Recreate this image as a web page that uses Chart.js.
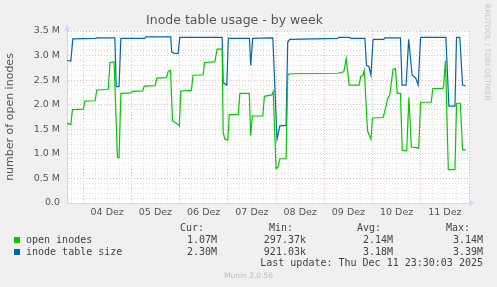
<!DOCTYPE html>
<html lang="de">
<head>
<meta charset="UTF-8">
<title>Inode table usage - by week</title>
<script src="https://cdn.jsdelivr.net/npm/chart.js@4"></script>
<style>
    body { margin: 0; background: #f0f0f0; }
    #wrap { position: relative; width: 497px; height: 287px; background: #f0f0f0; overflow: hidden; }
    #chart { position: absolute; left: 0; top: 0; }
    .mono { position: absolute; font: 10px "DejaVu Sans Mono", monospace; color: #444; line-height: 12px; white-space: pre; }
    .r { text-align: right; }
    .sq { position: absolute; width: 6px; height: 6px; }
    #rrd { position: absolute; left: 483px; top: 4px; writing-mode: vertical-rl; font: 7.5px "DejaVu Sans", sans-serif; color: #c8c8c8; }
    #munin { position: absolute; left: 0; width: 497px; top: 271px; text-align: center; font: 7.5px "DejaVu Sans", sans-serif; color: #bbb; }
</style>
</head>
<body>
<div id="wrap">
    <canvas id="chart" width="497" height="287"></canvas>
    <div id="rrd">RRDTOOL / TOBI OETIKER</div>

    <!-- legend / stats table -->
    <div class="mono r" style="right:293px;top:222px">Cur:</div>
    <div class="mono r" style="right:204px;top:222px">Min:</div>
    <div class="mono r" style="right:116px;top:222px">Avg:</div>
    <div class="mono r" style="right:27px;top:222px">Max:</div>

    <div class="sq" style="left:14px;top:237px;background:#00cc00"></div>
    <div class="mono" style="left:26px;top:234px">open inodes</div>
    <div class="mono r" style="right:280px;top:234px">1.07M</div>
    <div class="mono r" style="right:191px;top:234px">297.37k</div>
    <div class="mono r" style="right:104px;top:234px">2.14M</div>
    <div class="mono r" style="right:14px;top:234px">3.14M</div>

    <div class="sq" style="left:14px;top:249px;background:#0066b3"></div>
    <div class="mono" style="left:26px;top:246px">inode table size</div>
    <div class="mono r" style="right:280px;top:246px">2.30M</div>
    <div class="mono r" style="right:191px;top:246px">921.03k</div>
    <div class="mono r" style="right:104px;top:246px">3.18M</div>
    <div class="mono r" style="right:14px;top:246px">3.39M</div>

    <div class="mono r" style="right:14px;top:257px">Last update: Thu Dec 11 23:30:03 2025</div>
    <div id="munin">Munin 2.0.56</div>
</div>

<script>
    // hours since 04 Dez 00:00
    const dayLabels = ['04 Dez', '05 Dez', '06 Dez', '07 Dez', '08 Dez', '09 Dez', '10 Dez', '11 Dez'];

    // inode table size (millions)
    const sizeTimes = [-8, -6.1, -5.1, 6.3, 6.8, 15.8, 16.5, 17.9, 18.8, 30.7, 31.2, 43.6, 44.1, 45.1, 47.3, 48.1,
        69.2, 69.7, 71.5, 72.3, 82.8, 83.4, 84.4, 94.4, 96.5, 97.9, 101.0, 101.8, 102.8, 126.7, 127.2, 132.7, 133.2,
        140.2, 141.0, 142.2, 143.2, 144.3, 149.6, 150.1, 157.9, 158.7, 160.7, 162.0, 163.7, 165.4, 166.7, 167.9,
        180.5, 182.0, 185.0, 185.8, 187.4, 188.8, 190.4];
    const sizeValues = [2.90, 2.89, 3.34, 3.35, 3.36, 3.36, 2.37, 2.37, 3.35, 3.35, 3.38, 3.38, 3.07, 3.05, 3.04, 3.37,
        3.37, 2.45, 2.40, 3.35, 3.35, 2.80, 3.35, 3.36, 1.30, 1.57, 1.58, 3.27, 3.33, 3.35, 3.37, 3.37, 3.35,
        3.35, 2.80, 2.78, 2.60, 3.33, 3.33, 3.36, 3.36, 2.40, 2.40, 3.33, 2.60, 2.55, 2.40, 3.37,
        3.37, 1.97, 1.97, 3.37, 3.37, 2.40, 2.38];

    // open inodes (millions)
    const openTimes = [-8, -6.1, -5.3, 0.2, 0.8, 6.0, 6.8, 12.5, 13.4, 15.4, 17.1, 17.9, 18.8, 23.9, 24.5, 29.7,
        30.4, 35.9, 36.7, 41.5, 42.4, 43.5, 44.5, 47.3, 47.9, 48.6, 53.9, 54.7, 59.7, 60.5, 65.5, 66.7,
        69.2, 69.7, 70.5, 72.0, 72.7, 77.2, 78.0, 82.7, 83.4, 84.2, 89.4, 90.2, 93.9, 94.6, 96.0, 96.9,
        97.9, 101.0, 101.8, 102.8, 126.7, 129.7, 130.9, 132.4, 137.3, 138.2, 139.2, 139.9, 141.5, 143.2,
        144.0, 149.3, 150.6, 151.6, 152.6, 154.2, 155.4, 156.3, 157.9, 158.8, 161.0, 162.1, 163.3, 167.0,
        167.9, 173.2, 174.0, 179.0, 179.4, 180.3, 181.7, 185.0, 185.8, 187.7, 188.8, 190.4];
    const openValues = [1.62, 1.60, 1.90, 1.91, 2.07, 2.08, 2.30, 2.31, 2.86, 2.87, 0.93, 0.92, 2.23, 2.24, 2.27, 2.28,
        2.38, 2.39, 2.54, 2.55, 2.68, 2.70, 1.67, 1.60, 1.57, 2.28, 2.29, 2.60, 2.61, 2.86, 2.87, 3.13,
        3.13, 1.43, 1.30, 1.28, 1.80, 1.80, 2.23, 2.23, 1.37, 1.77, 1.77, 2.17, 2.20, 2.27, 0.70, 0.72,
        0.90, 0.90, 2.60, 2.63, 2.64, 2.67, 2.94, 2.40, 2.40, 2.58, 2.60, 2.70, 1.47, 1.30,
        1.73, 1.74, 1.95, 2.13, 2.20, 2.72, 2.73, 2.23, 2.23, 1.07, 1.06, 2.15, 1.14, 1.12,
        2.05, 2.05, 2.33, 2.33, 2.40, 2.90, 0.68, 0.68, 2.03, 2.03, 1.08, 1.08];

    const toPoints = (xs, ys) => xs.map((x, i) => ({ x: x, y: ys[i] }));
    const isHalf = v => Math.abs(v * 2 - Math.round(v * 2)) < 1e-6;

    const axisColor = '#cfd6f8';
    const majorGrid = '#f4b4b4';
    const minorGrid = '#e2e2e2';
    const fontFamily = '"DejaVu Sans", sans-serif';

    // white plot area + munin style axis arrows
    const munin = {
        id: 'munin',
        beforeDraw(chart) {
            const { ctx, chartArea: a } = chart;
            ctx.save();
            ctx.fillStyle = '#ffffff';
            ctx.fillRect(a.left, a.top, a.right - a.left, a.bottom - a.top);
            ctx.restore();
        },
        afterDraw(chart) {
            const { ctx, chartArea: a } = chart;
            ctx.save();
            ctx.fillStyle = axisColor;
            ctx.beginPath();
            ctx.moveTo(a.left - 3, a.top);
            ctx.lineTo(a.left + 3, a.top);
            ctx.lineTo(a.left, a.top - 6);
            ctx.fill();
            ctx.beginPath();
            ctx.moveTo(a.right, a.bottom - 3);
            ctx.lineTo(a.right, a.bottom + 3);
            ctx.lineTo(a.right + 6, a.bottom);
            ctx.fill();
            ctx.restore();
        }
    };

    new Chart(document.getElementById('chart'), {
        type: 'line',
        data: {
            datasets: [{
                label: 'open inodes',
                data: toPoints(openTimes, openValues),
                borderColor: '#00cc00',
                borderWidth: 1.2,
                pointRadius: 0,
                tension: 0,
                fill: false
            }, {
                label: 'inode table size',
                data: toPoints(sizeTimes, sizeValues),
                borderColor: '#0066b3',
                borderWidth: 1.2,
                pointRadius: 0,
                tension: 0,
                fill: false
            }]
        },
        options: {
            responsive: false,
            animation: false,
            layout: { padding: { top: 0, right: 28, bottom: 0, left: 0 } },
            plugins: {
                legend: { display: false },
                tooltip: { enabled: false },
                title: {
                    display: true,
                    text: 'Inode table usage - by week',
                    color: '#555',
                    font: { family: fontFamily, size: 12.5, weight: 'normal' },
                    padding: { top: 13, bottom: 3 }
                }
            },
            scales: {
                x: {
                    type: 'linear',
                    min: -8,
                    max: 192,
                    afterFit: s => { s.height = 84; },
                    border: { color: axisColor, width: 1, dash: [1, 2] },
                    grid: {
                        drawTicks: false,
                        color: c => (c.tick && c.tick.value % 24 === 0) ? majorGrid : minorGrid
                    },
                    ticks: {
                        stepSize: 6,
                        includeBounds: false,
                        autoSkip: false,
                        maxRotation: 0,
                        padding: 4,
                        color: '#555',
                        font: { family: fontFamily, size: 9.5 },
                        callback: v => (((v % 24) + 24) % 24 === 12) ? (dayLabels[Math.floor(v / 24)] || '') : ''
                    }
                },
                y: {
                    min: 0,
                    max: 3.5,
                    afterFit: s => { s.width = 67; },
                    border: { color: axisColor, width: 1, dash: [1, 2] },
                    grid: {
                        drawTicks: false,
                        color: c => (c.tick && isHalf(c.tick.value)) ? majorGrid : minorGrid
                    },
                    ticks: {
                        stepSize: 0.1,
                        autoSkip: false,
                        padding: 7,
                        color: '#555',
                        font: { family: fontFamily, size: 9.5 },
                        callback: v => isHalf(v) ? (v === 0 ? '0.0' : v.toFixed(1) + ' M') : ''
                    },
                    title: {
                        display: true,
                        text: 'number of open inodes',
                        color: '#555',
                        font: { family: fontFamily, size: 11 },
                        padding: { top: 4, bottom: 0 }
                    }
                }
            }
        },
        plugins: [munin]
    });
</script>
</body>
</html>
